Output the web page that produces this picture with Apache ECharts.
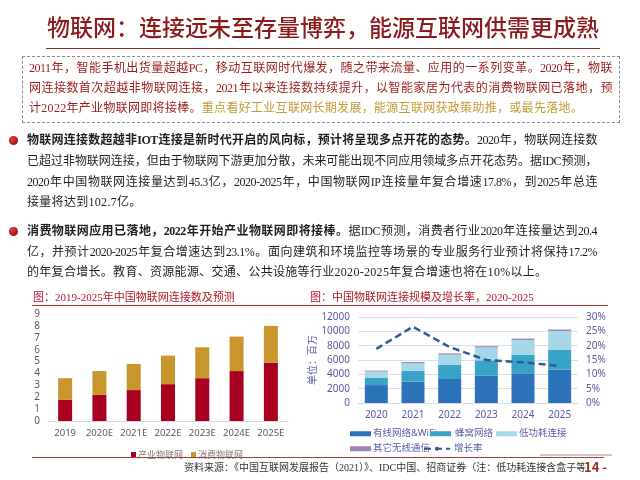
<!DOCTYPE html>
<html><head><meta charset="utf-8">
<script src="https://cdn.jsdelivr.net/npm/echarts@6/dist/echarts.min.js"></script>
<style>
html,body{margin:0;padding:0;width:640px;height:480px;overflow:hidden;background:#fff;font-family:"Noto Sans CJK SC","Noto Sans",sans-serif;}
#chart{position:absolute;left:0;top:0;width:640px;height:480px;}
.t{position:absolute;white-space:nowrap;}
.ln{position:absolute;height:20px;line-height:20px;font-size:12px;font-family:"Liberation Serif","Noto Sans CJK SC",serif;}
.j{text-align:justify;text-align-last:justify;letter-spacing:-0.5px;}
.box{color:#9b1b1b;}
.gold{color:#c39a35;}
.blk{color:#1e1e1e;}
.b{font-weight:bold;}
.dot{position:absolute;width:9px;height:9px;border-radius:50%;background:radial-gradient(circle at 35% 35%,#e04040,#8a0000);}
</style></head>
<body>
<div id="chart"></div>
<div class="t" style="left:0;width:646px;top:11px;text-align:center;font-size:23px;line-height:30px;color:#8b1a1a;font-weight:500;">物联网：连接远未至存量博弈，能源互联网供需更成熟</div>
<div style="position:absolute;left:46px;top:48px;width:554px;height:0;border-top:1.5px solid #8b2a2a;"></div>
<div style="position:absolute;left:22px;top:56px;width:596px;height:65px;border:1px dashed #8c8c8c;"></div>
<div class="ln j box" style="left:29px;width:583px;top:58px;">2011年，智能手机出货量超越PC，移动互联网时代爆发，随之带来流量、应用的一系列变革。2020年，物联</div>
<div class="ln j box" style="left:29px;width:583px;top:78px;">网连接数首次超越非物联网连接，2021年以来连接数持续提升，以智能家居为代表的消费物联网已落地，预</div>
<div class="ln box" style="left:29px;width:583px;top:98px;letter-spacing:0.3px;">计2022年产业物联网即将接棒。<span class="gold">重点看好工业互联网长期发展，能源互联网获政策助推，或最先落地。</span></div>

<div class="dot" style="left:9px;top:136px;"></div>
<div class="ln j blk" style="left:27px;width:570px;top:130px;"><span class="b">物联网连接数超越非IOT连接是新时代开启的风向标，预计将呈现多点开花的态势。</span>2020年，物联网连接数</div>
<div class="ln j blk" style="left:27px;width:570px;top:151px;">已超过非物联网连接，但由于物联网下游更加分散，未来可能出现不同应用领域多点开花态势。据IDC预测，</div>
<div class="ln j blk" style="left:27px;width:570px;top:172px;">2020年中国物联网连接量达到45.3亿，2020-2025年，中国物联网IP连接量年复合增速17.8%，到2025年总连</div>
<div class="ln blk" style="left:27px;width:570px;top:192px;letter-spacing:0.3px;">接量将达到102.7亿。</div>

<div class="dot" style="left:9px;top:227px;"></div>
<div class="ln j blk" style="left:27px;width:570px;top:221px;"><span class="b">消费物联网应用已落地，2022年开始产业物联网即将接棒。</span>据IDC预测，消费者行业2020年连接量达到20.4</div>
<div class="ln j blk" style="left:27px;width:570px;top:242px;">亿，并预计2020-2025年复合增速达到23.1%。面向建筑和环境监控等场景的专业服务行业预计将保持17.2%</div>
<div class="ln blk" style="left:27px;width:570px;top:262px;letter-spacing:0.3px;">的年复合增长。教育、资源能源、交通、公共设施等行业2020-2025年复合增速也将在10%以上。</div>

<div class="t" style="left:33px;top:290px;font-size:11px;line-height:14px;color:#b0182a;font-family:'Liberation Serif','Noto Sans CJK SC',serif;">图：2019-2025年中国物联网连接数及预测</div>
<div class="t" style="left:310px;top:290px;font-size:11px;line-height:14px;color:#b0182a;font-family:'Liberation Serif','Noto Sans CJK SC',serif;">图：中国物联网连接规模及增长率，2020-2025</div>
<div style="position:absolute;left:32px;top:305px;width:576px;height:0;border-top:1.5px solid #b03030;"></div>

<div style="position:absolute;left:540px;top:454px;width:72px;height:0;border-top:2px solid #c8c8c8;"></div>
<div style="position:absolute;left:32px;top:457px;width:572px;height:0;border-top:1.5px solid #b03a3a;"></div>
<div class="t" style="left:184px;top:461px;font-size:10px;line-height:14px;color:#333;font-family:'Liberation Serif','Noto Sans CJK SC',serif;">资料来源：《中国互联网发展报告（2021）》、IDC中国、招商证券（注：低功耗连接含盒子等）</div>
<div class="t" style="left:584px;top:459px;font-size:13px;line-height:16px;color:#a0301e;font-weight:bold;background:rgba(255,255,255,0.6);">14 -</div>

<script>
const leftCategories = ['2019','2020E','2021E','2022E','2023E','2024E','2025E'];
const industrialIoT = [1.8,2.2,2.6,3.1,3.6,4.2,4.9];
const consumerIoT = [1.8,2.0,2.2,2.4,2.6,2.9,3.1];
const rightCategories = ['2020','2021','2022','2023','2024','2025'];
const wiredWifi = [2500,3000,3350,3800,4150,4650];
const cellular = [1000,1500,1950,2150,2550,2800];
const lowPower = [900,1050,1450,1800,2100,2600];
const otherWireless = [120,170,180,180,190,200];
const growthRate = [0.189,0.266,0.195,0.150,0.142,0.129];

const axisPurple = '#5a5aa8';
const chart = echarts.init(document.getElementById('chart'), null, {renderer:'canvas'});
const ff = '"Noto Sans", "Noto Sans CJK SC", sans-serif';
chart.setOption({
  animation:false,
  textStyle:{fontFamily:ff},
  grid:[
    {left:48,right:352,top:314,bottom:59},
    {left:358,right:62,top:317,bottom:77}
  ],
  legend:[
    {data:['产业物联网','消费物联网'],left:126,top:445,itemWidth:5,itemHeight:5,itemGap:8,icon:'rect',
     textStyle:{fontSize:9,color:'#7f7f7f',fontFamily:'"Noto Sans CJK SC"',padding:[0,0,0,-3]}},
    {data:['有线网络&WiFi'],left:345,top:424,itemWidth:21,itemHeight:5,icon:'rect',textStyle:{fontSize:9.5,color:axisPurple,padding:[0,0,0,-3]}},
    {data:['蜂窝网络'],left:425,top:424,itemWidth:21,itemHeight:5,icon:'rect',textStyle:{fontSize:9.5,color:axisPurple,padding:[0,0,0,-1]}},
    {data:['低功耗连接'],left:491,top:424,itemWidth:21,itemHeight:5,icon:'rect',textStyle:{fontSize:9.5,color:axisPurple,padding:[0,0,0,-3]}},
    {data:['其它无线通信'],left:345,top:439,itemWidth:21,itemHeight:5,icon:'rect',textStyle:{fontSize:9.5,color:axisPurple,padding:[0,0,0,-3]}},
    {data:['增长率'],left:418,top:439,itemWidth:26,itemHeight:5,textStyle:{fontSize:9.5,color:axisPurple,padding:[0,0,0,-1]}}
  ],
  xAxis:[
    {type:'category',gridIndex:0,data:leftCategories,axisTick:{show:false},
     axisLine:{lineStyle:{color:'#d9d9d9'}},axisLabel:{color:'#595959',fontSize:9.5,margin:8,interval:0}},
    {type:'category',gridIndex:1,data:rightCategories,axisTick:{show:false},
     axisLine:{lineStyle:{color:'#d8d8ee'}},axisLabel:{color:axisPurple,fontSize:10,margin:7,interval:0}}
  ],
  yAxis:[
    {type:'value',gridIndex:0,min:0,max:9,interval:1,splitLine:{show:false},axisLine:{show:false},axisTick:{show:false},
     axisLabel:{color:'#595959',fontSize:10,margin:8}},
    {type:'value',gridIndex:1,min:0,max:12000,interval:2000,splitLine:{lineStyle:{color:'#dcdcf0'}},axisLine:{show:false},axisTick:{show:false},
     axisLabel:{color:axisPurple,fontSize:10,margin:8,formatter:v=>String(v)},
     name:'单位：百万',nameLocation:'middle',nameGap:30,nameTextStyle:{color:axisPurple,fontSize:10,fontFamily:'"Noto Sans CJK SC"'}},
    {type:'value',gridIndex:1,position:'right',min:0,max:0.3,interval:0.05,splitLine:{show:false},axisLine:{show:false},axisTick:{show:false},
     axisLabel:{color:axisPurple,fontSize:10,margin:8,formatter:v=>Math.round(v*100)+'%'}}
  ],
  series:[
    {name:'产业物联网',type:'bar',xAxisIndex:0,yAxisIndex:0,stack:'a',barWidth:14,data:industrialIoT,itemStyle:{color:'#a8001e'}},
    {name:'消费物联网',type:'bar',xAxisIndex:0,yAxisIndex:0,stack:'a',barWidth:14,data:consumerIoT,itemStyle:{color:'#c9952d'}},
    {name:'有线网络&WiFi',type:'bar',xAxisIndex:1,yAxisIndex:1,stack:'b',barWidth:23,data:wiredWifi,itemStyle:{color:'#2c72b8'}},
    {name:'蜂窝网络',type:'bar',xAxisIndex:1,yAxisIndex:1,stack:'b',barWidth:23,data:cellular,itemStyle:{color:'#37a3c6'}},
    {name:'低功耗连接',type:'bar',xAxisIndex:1,yAxisIndex:1,stack:'b',barWidth:23,data:lowPower,itemStyle:{color:'#a6d7e7'}},
    {name:'其它无线通信',type:'bar',xAxisIndex:1,yAxisIndex:1,stack:'b',barWidth:23,data:otherWireless,itemStyle:{color:'#9a86b8'}},
    {name:'增长率',type:'line',xAxisIndex:1,yAxisIndex:2,data:growthRate,symbol:'none',
     lineStyle:{color:'#2a5a98',width:2.5,type:[7,4]},itemStyle:{color:'#2a5a98'}}
  ]
});
</script>
</body></html>
